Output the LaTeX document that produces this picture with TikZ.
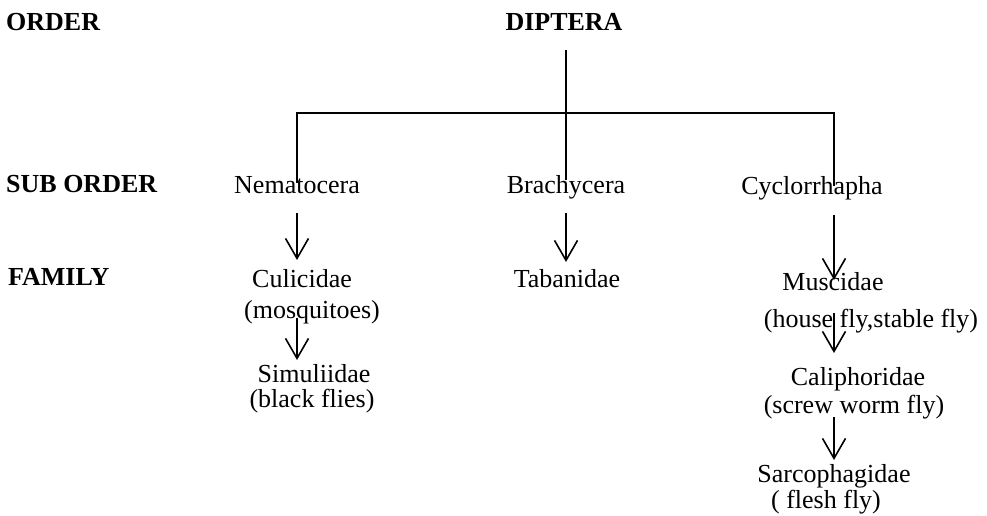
\documentclass[tikz,border=0pt]{standalone}
\usepackage{fontspec}
\setmainfont{Liberation Serif}
\usetikzlibrary{arrows.meta}
\tikzset{
  txt/.style={inner sep=0pt, anchor=base, font=\fontsize{26}{30}\selectfont},
  lbl/.style={inner sep=0pt, anchor=base west, font=\fontsize{26}{30}\selectfont\bfseries},
  ln/.style={line width=1.8pt},
  arr/.style={line width=1.6pt, -{Straight Barb[length=20pt,width=23pt,line width=1.6pt]}}
}
\begin{document}
\begin{tikzpicture}[x=1pt,y=-1pt]
\path[use as bounding box] (0,0) rectangle (987,516);
% level labels
\node[lbl] (order) at (6,31) {ORDER};
\node[lbl] (suborder) at (6,192) {SUB ORDER};
\node[lbl] (family) at (8,285) {FAMILY};
% order
\node[txt,font=\fontsize{26}{30}\selectfont\bfseries] (dip) at (564,31) {DIPTERA};
% sub orders
\node[txt] (nema) at (297,193) {Nematocera};
\node[txt] (brach) at (566,193) {Brachycera};
\node[txt] (cycl) at (812,194) {Cyclorrhapha};
% families
\node[txt] (culi) at (302,287) {Culicidae};
\node[txt] (mosq) at (312,318) {(mosquitoes)};
\node[txt] (simu) at (314,382) {Simuliidae};
\node[txt] (black) at (312,407) {(black flies)};
\node[txt] (taban) at (567,287) {Tabanidae};
\node[txt] (musc) at (833,290) {Muscidae};
\node[txt] (hfly) at (871,327) {(house fly,stable fly)};
\node[txt] (cali) at (858,385) {Caliphoridae};
\node[txt] (screw) at (854,413) {(screw worm fly)};
\node[txt] (sarc) at (834,482) {Sarcophagidae};
\node[txt] (flesh) at (826,508) {( flesh fly)};
% bar coordinates
\coordinate (hub) at (566,113);
\coordinate (lc) at (297,113);
\coordinate (rc) at (834,113);
% tree lines
\draw[ln] ([yshift=-19pt]hub |- dip.base) -- ([yshift=13pt]hub |- brach.base);
\draw[ln] ([yshift=10pt]lc |- nema.base) -- (lc) -- (rc) -- ([yshift=8pt]rc |- cycl.base);
% arrows
\draw[arr] ([yshift=-20pt]lc |- nema.base) -- ([yshift=27pt]lc |- culi.base);
\draw[arr] (lc |- mosq.base) -- ([yshift=22pt]lc |- simu.base);
\draw[arr] ([yshift=-20pt]hub |- brach.base) -- ([yshift=25pt]hub |- taban.base);
\draw[arr] ([yshift=-21pt]rc |- cycl.base) -- ([yshift=10pt]rc |- musc.base);
\draw[arr] ([yshift=14pt]rc |- hfly.base) -- ([yshift=32pt]rc |- cali.base);
\draw[arr] ([yshift=-4pt]rc |- screw.base) -- ([yshift=22pt]rc |- sarc.base);
\end{tikzpicture}
\end{document}
